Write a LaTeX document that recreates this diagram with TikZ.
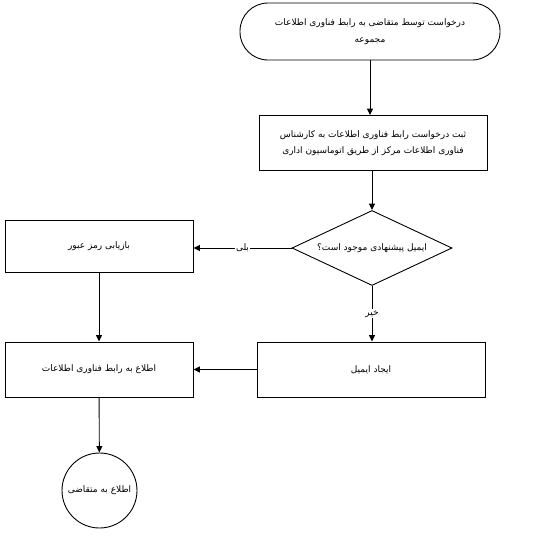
\documentclass[tikz,border=0pt]{standalone}
\usepackage{fontspec}
\newfontfamily\arabicfont[Script=Arabic]{DejaVu Sans}
\TeXXeTstate=1
\usetikzlibrary{arrows.meta,shapes.geometric}
\newcommand{\fatext}[1]{\arabicfont\beginR #1\endR}
\tikzset{
  flow diagram/.style={
    draw=black, line width=0.9pt,
    >={Triangle[length=6.5pt,width=6pt]},
    every node/.style={font=\fontsize{9}{16.5}\selectfont,
      text=black, align=center}
  },
  flow start/.style={draw, fill=white, rounded corners=28pt,
    minimum width=260pt, minimum height=57pt},
  flow box/.style={draw, fill=white, minimum width=228pt, minimum height=55pt},
  flow side/.style={draw, fill=white, minimum width=188pt, minimum height=52pt},
  flow test/.style={draw, fill=white, diamond, aspect=2.1, inner sep=0pt,
    minimum width=160pt, minimum height=75pt},
  flow end/.style={draw, fill=white, circle, inner sep=0pt, minimum size=75pt},
  flow label/.style={fill=white, inner sep=1pt}
}
\begin{document}
\begin{tikzpicture}[flow diagram,x=1pt,y=-1pt]
    \useasboundingbox[fill=white] (0,0) rectangle (548,560);
    % nodes
    \node[flow start] (request) at (370,31.5)
      {\fatext{درخواست توسط متقاضی به رابط فناوری اطلاعات}\\\fatext{مجموعه}};
    \node[flow box] (register) at (373,143)
      {\fatext{ثبت درخواست رابط فناوری اطلاعات به کارشناس}\\\fatext{فناوری اطلاعات مرکز از طریق اتوماسیون اداری}};
    \node[flow test] (hasmail) at (372,248) {\fatext{ایمیل پیشنهادی موجود است؟}};
    \node[flow side] (recover) at (99,246) {\fatext{بازیابی رمز عبور}};
    \node[flow box] (create) at (371,369.5) {\fatext{ایجاد ایمیل}};
    \node[flow side, minimum height=55pt] (inform) at (99,369.5)
      {\fatext{اطلاع به رابط فناوری اطلاعات}};
    \node[flow end] (notify) at (99.5,490.5) {\fatext{اطلاع به متقاضی}};
    % connectors
    \draw[->] (request) -- (request |- register.north);
    \draw[->] (register.south -| hasmail.north) -- (hasmail.north);
    \draw[->] (hasmail.west) -- (hasmail.west -| recover.east)
      node[flow label, midway] {\fatext{بلی}};
    \draw[->] (hasmail.south) -- (hasmail.south |- create.north)
      node[flow label, midway] {\fatext{خیر}};
    \draw[->] (recover) -- (inform);
    \draw[->] (create) -- (inform);
    \draw[->] (inform) -- (notify);
\end{tikzpicture}
\end{document}
